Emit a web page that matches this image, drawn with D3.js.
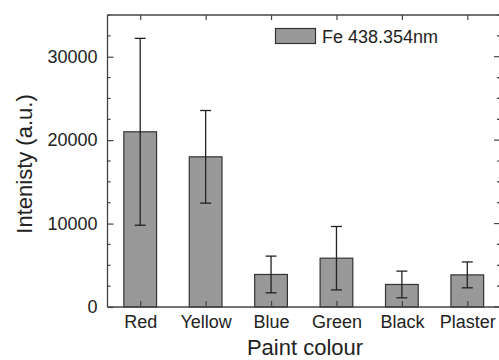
<!DOCTYPE html>
<html>
<head>
<meta charset="utf-8">
<script src="https://cdn.jsdelivr.net/npm/d3@7"></script>
<style>
  body { margin: 0; background: #fff; }
  text { font-family: "Liberation Sans", Arial, sans-serif; fill: #222; }
</style>
</head>
<body>
<svg id="chart" width="499" height="360"></svg>
<script>
// values
const categories = ['Red', 'Yellow', 'Blue', 'Green', 'Black', 'Plaster'];
const intensity = [21000, 18000, 3900, 5850, 2700, 3850];
const errors = [11200, 5550, 2200, 3800, 1600, 1550];
const yTicks = [0, 10000, 20000, 30000];
const legendLabel = 'Fe 438.354nm';

const svg = d3.select('#chart');
const m = { left: 107.5, right: 500, top: 15, bottom: 307 };
const axisColor = '#444';

const x = d3.scalePoint().domain(categories).range([m.left, m.right]).padding(0.5);
const barW = x.step() * 0.5;
const y = d3.scaleLinear().domain([0, 35000]).range([m.bottom, m.top]);

// bars
svg.append('g').selectAll('rect')
  .data(categories)
  .join('rect')
  .attr('x', (d) => x(d) - barW / 2)
  .attr('y', (d, i) => y(intensity[i]))
  .attr('width', barW)
  .attr('height', (d, i) => y(0) - y(intensity[i]))
  .attr('fill', '#999')
  .attr('stroke', '#333')
  .attr('stroke-width', 1.2);

// error bars
const eb = svg.append('g').attr('stroke', '#222').attr('stroke-width', 1.3);
categories.forEach((c, i) => {
  const cx = x(c), hi = y(intensity[i] + errors[i]), lo = y(intensity[i] - errors[i]);
  eb.append('line').attr('x1', cx).attr('x2', cx).attr('y1', hi).attr('y2', lo);
  eb.append('line').attr('x1', cx - 5.5).attr('x2', cx + 5.5).attr('y1', hi).attr('y2', hi);
  eb.append('line').attr('x1', cx - 5.5).attr('x2', cx + 5.5).attr('y1', lo).attr('y2', lo);
});

// frame lines (right edge falls off the canvas in the reference)
const frame = svg.append('g').attr('stroke', axisColor).attr('stroke-width', 1.3);
frame.append('line').attr('x1', m.left).attr('x2', m.right).attr('y1', m.top).attr('y2', m.top);
frame.append('line').attr('x1', m.left).attr('x2', m.right).attr('y1', m.bottom).attr('y2', m.bottom);
frame.append('line').attr('x1', m.left).attr('x2', m.left).attr('y1', m.top).attr('y2', m.bottom);

// left axis: major ticks with labels, minor ticks every 2500
const minor = d3.range(0, 35001, 2500).filter((v) => v % 10000 !== 0);
const leftAxis = svg.append('g').attr('transform', `translate(${m.left},0)`)
  .call(d3.axisLeft(y).tickValues(yTicks).tickSize(-6).tickPadding(10).tickFormat(d3.format('d')));
leftAxis.select('.domain').remove();
leftAxis.selectAll('.tick line').attr('stroke', axisColor).attr('stroke-width', 1.2);
leftAxis.selectAll('.tick text').attr('font-size', 18).style('font-family', '"Liberation Sans", Arial, sans-serif').attr('fill', '#222');
svg.append('g').selectAll('line').data(minor).join('line')
  .attr('x1', m.left).attr('x2', m.left + 3)
  .attr('y1', (d) => y(d)).attr('y2', (d) => y(d))
  .attr('stroke', axisColor).attr('stroke-width', 1.2);

// right axis ticks (inward)
const rightTicks = svg.append('g');
rightTicks.append('g').selectAll('line').data(yTicks).join('line')
  .attr('x1', m.right).attr('x2', m.right - 6)
  .attr('y1', (d) => y(d)).attr('y2', (d) => y(d))
  .attr('stroke', axisColor).attr('stroke-width', 1.2);
rightTicks.append('g').selectAll('line').data(minor).join('line')
  .attr('x1', m.right).attr('x2', m.right - 3)
  .attr('y1', (d) => y(d)).attr('y2', (d) => y(d))
  .attr('stroke', axisColor).attr('stroke-width', 1.2);

// bottom axis: category labels, ticks inward
const bottomAxis = svg.append('g').attr('transform', `translate(0,${m.bottom})`)
  .call(d3.axisBottom(x).tickSize(-6).tickPadding(8));
bottomAxis.select('.domain').remove();
bottomAxis.selectAll('.tick line').attr('stroke', axisColor).attr('stroke-width', 1.2);
bottomAxis.selectAll('.tick text').attr('font-size', 18).style('font-family', '"Liberation Sans", Arial, sans-serif').attr('fill', '#222');

// top axis ticks
const topAxis = svg.append('g').attr('transform', `translate(0,${m.top})`)
  .call(d3.axisTop(x).tickSize(-5).tickFormat(''));
topAxis.select('.domain').remove();
topAxis.selectAll('.tick line').attr('stroke', axisColor).attr('stroke-width', 1.2);

// axis titles
svg.append('text')
  .attr('x', 305).attr('y', 355)
  .attr('text-anchor', 'middle')
  .attr('font-size', 22)
  .text('Paint colour');
svg.append('text')
  .attr('transform', 'translate(32,164) rotate(-90)')
  .attr('text-anchor', 'middle')
  .attr('font-size', 22)
  .text('Intenisty (a.u.)');

// legend
svg.append('rect')
  .attr('x', 275.5).attr('y', 28.5).attr('width', 40).attr('height', 15)
  .attr('fill', '#999').attr('stroke', '#333').attr('stroke-width', 1.2);
svg.append('text')
  .attr('x', 322).attr('y', 42.5)
  .attr('font-size', 18)
  .text(legendLabel);
</script>
</body>
</html>
